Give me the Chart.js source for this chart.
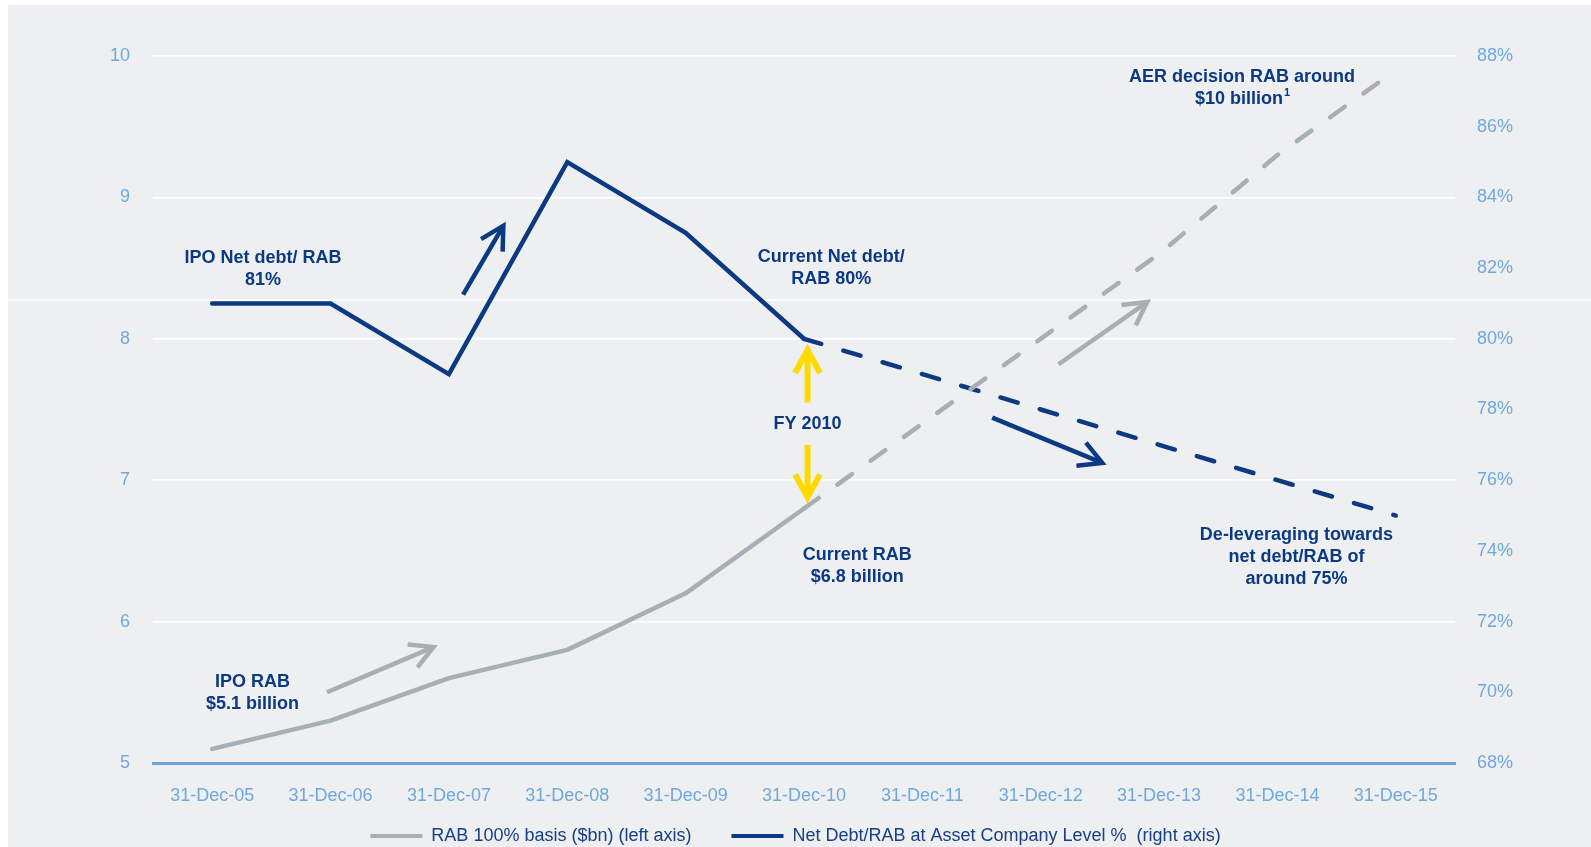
<!DOCTYPE html>
<html>
<head>
<meta charset="utf-8">
<title>RAB and Net Debt/RAB</title>
<script src="https://cdn.jsdelivr.net/npm/chart.js@4.4.0/dist/chart.umd.min.js"></script>
<style>
  html, body { margin: 0; padding: 0; background: #fff; }
</style>
</head>
<body>
<canvas id="mycanvas" width="1591" height="847"></canvas>
<script>
// Year-end periods on the x axis
var periods = ['31-Dec-05', '31-Dec-06', '31-Dec-07', '31-Dec-08', '31-Dec-09', '31-Dec-10',
               '31-Dec-11', '31-Dec-12', '31-Dec-13', '31-Dec-14', '31-Dec-15'];

// RAB 100% basis in $bn (left axis)
var rabValues = [5.1, 5.3, 5.6, 5.8, 6.2, 6.8, 7.4, 8.0, 8.6, 9.3, 9.9];

// Net debt / RAB at asset company level, % (right axis)
var netDebtValues = [81, 81, 79, 85, 83, 80, 79, 78, 77, 76, 75];

// axis ranges
var leftAxisRange = [5, 10, 1];     // min, max, step
var rightAxisRange = [68, 88, 2];

// points after this index are forecast (dashed)
var lastActualIndex = 5;

var NAVY = '#0b3a82';
var GREY = '#a7afb4';
var YELLOW = '#ffd900';
var TICK_BLUE = '#70a8dc';
var FONT = '"Liberation Sans", Arial, sans-serif';

// text callouts, placed in x-index / left-axis units
var callouts = [
  { lines: ['IPO Net debt/ RAB', '81%'], x: 0.43, y: 8.57 },
  { lines: ['Current Net debt/', 'RAB 80%'], x: 5.23, y: 8.58 },
  { lines: ['FY 2010'], x: 5.03, y: 7.40 },
  { lines: ['Current RAB', '$6.8 billion'], x: 5.45, y: 6.47 },
  { lines: ['IPO RAB', '$5.1 billion'], x: 0.34, y: 5.57 },
  { lines: ['AER decision RAB around', { text: '$10 billion', sup: '1' }], x: 8.70, y: 9.85 },
  { lines: ['De-leveraging towards', 'net debt/RAB of', 'around 75%'], x: 9.16, y: 6.61 }
];

// trend arrows: from/to as [x index, axis value]
var arrows = [
  { from: [2.12, 81.25], to: [2.46, 83.2], axis: 'y1', color: NAVY, width: 4.5 },
  { from: [0.97, 5.5], to: [1.87, 5.82], axis: 'y', color: GREY, width: 4.5 },
  { from: [5.03, 7.55], to: [5.03, 7.92], axis: 'y', color: YELLOW, width: 6 },
  { from: [5.03, 7.25], to: [5.03, 6.88], axis: 'y', color: YELLOW, width: 6 },
  { from: [6.59, 77.77], to: [7.52, 76.49], axis: 'y1', color: NAVY, width: 4.5 },
  { from: [7.15, 7.82], to: [7.9, 8.26], axis: 'y', color: GREY, width: 4.5 }
];

function forecastDash(ctx) {
  return ctx.p0DataIndex >= lastActualIndex ? [18, 23] : undefined;
}

function drawArrow(ctx, x0, y0, x1, y1, color, width) {
  var ang = Math.atan2(y1 - y0, x1 - x0);
  var head = 26, spread = 0.5;
  ctx.save();
  ctx.strokeStyle = color;
  ctx.lineWidth = width;
  ctx.lineCap = 'butt';
  ctx.lineJoin = 'miter';
  ctx.beginPath();
  ctx.moveTo(x0, y0);
  ctx.lineTo(x1 - Math.cos(ang) * width * 0.6, y1 - Math.sin(ang) * width * 0.6);
  ctx.stroke();
  ctx.beginPath();
  ctx.moveTo(x1 - head * Math.cos(ang - spread), y1 - head * Math.sin(ang - spread));
  ctx.lineTo(x1, y1);
  ctx.lineTo(x1 - head * Math.cos(ang + spread), y1 - head * Math.sin(ang + spread));
  ctx.stroke();
  ctx.restore();
}

// slide background, panel and the stray rule across it
var backdrop = {
  id: 'backdrop',
  afterLayout: function(chart) {
    // let the x tick labels run into the legend band instead of being clipped
    chart.scales.x.bottom = chart.height;
  },
  beforeDraw: function(chart) {
    var ctx = chart.ctx;
    ctx.save();
    ctx.fillStyle = '#ffffff';
    ctx.fillRect(0, 0, chart.width, chart.height);
    ctx.fillStyle = '#eeeff1';
    ctx.fillRect(8, 5, chart.width - 8, chart.height - 5);
    ctx.strokeStyle = '#ffffff';
    ctx.lineWidth = 1.5;
    ctx.beginPath();
    ctx.moveTo(8, 300);
    ctx.lineTo(chart.width, 300);
    ctx.stroke();
    ctx.restore();
  }
};

var notes = {
  id: 'notes',
  afterDatasetsDraw: function(chart) {
    var ctx = chart.ctx;
    var xs = chart.scales.x, ys = chart.scales.y;

    arrows.forEach(function(a) {
      var yScale = chart.scales[a.axis];
      drawArrow(ctx,
        xs.getPixelForValue(a.from[0]), yScale.getPixelForValue(a.from[1]),
        xs.getPixelForValue(a.to[0]), yScale.getPixelForValue(a.to[1]),
        a.color, a.width);
    });

    ctx.save();
    ctx.fillStyle = NAVY;
    ctx.textBaseline = 'middle';
    callouts.forEach(function(c) {
      var px = xs.getPixelForValue(c.x);
      var py = ys.getPixelForValue(c.y);
      c.lines.forEach(function(line, i) {
        var ly = py + i * 22;
        if (typeof line === 'string') {
          ctx.font = 'bold 18px ' + FONT;
          ctx.textAlign = 'center';
          ctx.fillText(line, px, ly);
        } else {
          ctx.font = 'bold 18px ' + FONT;
          var w1 = ctx.measureText(line.text).width;
          ctx.font = 'bold 11px ' + FONT;
          var w2 = ctx.measureText(line.sup).width;
          var start = px - (w1 + w2) / 2;
          ctx.textAlign = 'left';
          ctx.font = 'bold 18px ' + FONT;
          ctx.fillText(line.text, start, ly);
          ctx.font = 'bold 11px ' + FONT;
          ctx.fillText(line.sup, start + w1 + 1, ly - 6);
        }
      });
    });
    ctx.restore();
  }
};

var chartdata = {
  labels: periods,
  datasets: [
    {
      label: 'RAB 100% basis ($bn) (left axis)',
      data: rabValues,
      yAxisID: 'y',
      borderColor: GREY,
      backgroundColor: GREY,
      borderWidth: 4.5,
      borderCapStyle: 'round',
      borderJoinStyle: 'round',
      pointRadius: 0,
      tension: 0,
      segment: { borderDash: forecastDash }
    },
    {
      label: 'Net Debt/RAB at Asset Company Level %  (right axis)',
      data: netDebtValues,
      yAxisID: 'y1',
      borderColor: NAVY,
      backgroundColor: NAVY,
      borderWidth: 4.5,
      borderCapStyle: 'round',
      borderJoinStyle: 'miter',
      pointRadius: 0,
      tension: 0,
      segment: { borderDash: forecastDash }
    }
  ]
};

var ctx = document.getElementById('mycanvas');

var lineGraph = new Chart(ctx, {
  type: 'line',
  data: chartdata,
  plugins: [backdrop, notes],
  options: {
    responsive: false,
    animation: false,
    devicePixelRatio: 1,
    layout: { padding: { top: 56, left: 0, right: 0, bottom: 0 } },
    scales: {
      x: {
        offset: true,
        grid: { display: false, drawTicks: false },
        border: { display: true, color: '#6fa6d8', width: 3 },
        ticks: { color: TICK_BLUE, font: { family: FONT, size: 18 }, padding: 22, maxRotation: 0, autoSkip: false },
        afterFit: function(scale) { scale.height = 24; }
      },
      y: {
        position: 'left',
        min: leftAxisRange[0],
        max: leftAxisRange[1],
        grid: {
          drawTicks: false,
          lineWidth: 1.5,
          color: function(c) { return c.tick && c.tick.value === leftAxisRange[0] ? 'rgba(0,0,0,0)' : '#ffffff'; }
        },
        border: { display: false },
        ticks: { stepSize: leftAxisRange[2], color: TICK_BLUE, font: { family: FONT, size: 18 }, padding: 23 },
        afterFit: function(scale) { scale.width = 153; }
      },
      y1: {
        position: 'right',
        min: rightAxisRange[0],
        max: rightAxisRange[1],
        grid: { display: false, drawTicks: false },
        border: { display: false },
        ticks: {
          stepSize: rightAxisRange[2],
          color: TICK_BLUE,
          font: { family: FONT, size: 18 },
          padding: 22,
          callback: function(v) { return v + '%'; }
        },
        afterFit: function(scale) { scale.width = 136; }
      }
    },
    plugins: {
      title: { display: false },
      tooltip: { enabled: false },
      legend: {
        display: true,
        position: 'bottom',
        maxHeight: 60,
        labels: {
          boxWidth: 52,
          boxHeight: 4,
          padding: 40,
          color: '#173f82',
          font: { family: FONT, size: 18 },
          generateLabels: function(chart) {
            return chart.data.datasets.map(function(ds, i) {
              return {
                text: ds.label,
                fillStyle: ds.borderColor,
                strokeStyle: ds.borderColor,
                fontColor: '#173f82',
                lineWidth: 0,
                hidden: false,
                datasetIndex: i
              };
            });
          }
        }
      }
    }
  }
});
</script>
</body>
</html>
